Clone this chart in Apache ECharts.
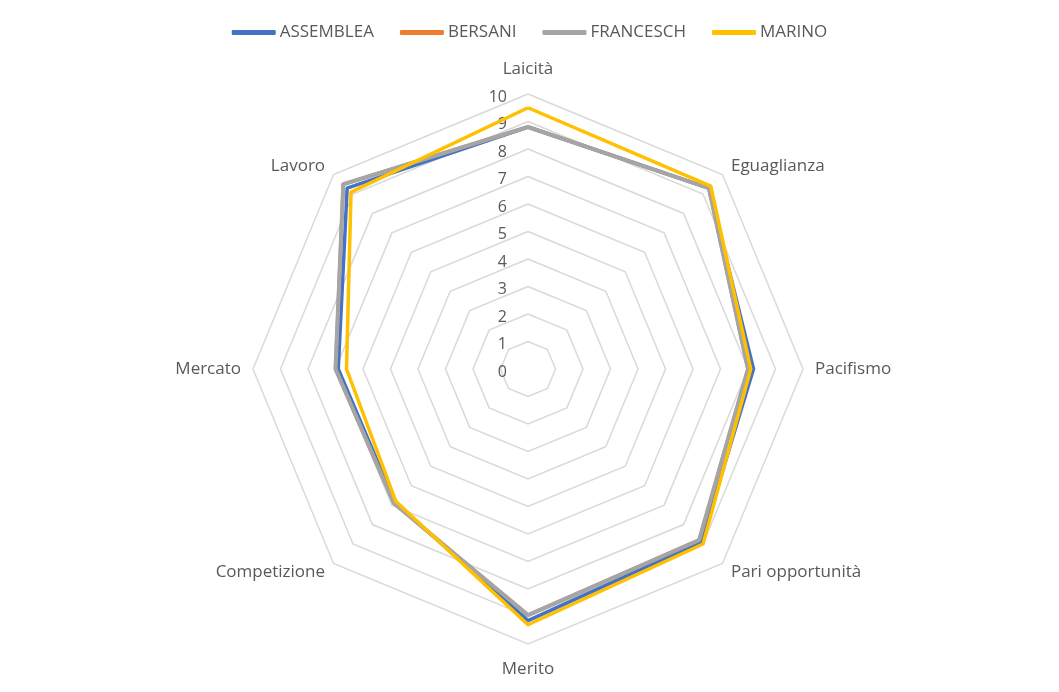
<!DOCTYPE html>
<html>
<head>
<meta charset="utf-8">
<script src="https://cdn.jsdelivr.net/npm/echarts@6/dist/echarts.min.js"></script>
<style>
html,body{margin:0;padding:0;background:#fff;}
#chart{width:1059px;height:692px;}
</style>
</head>
<body>
<div id="chart"></div>
<script>
// Categories in clockwise order starting from the top
const categories = ['Laicità', 'Eguaglianza', 'Pacifismo', 'Pari opportunità', 'Merito', 'Competizione', 'Mercato', 'Lavoro'];
const seriesNames = ['ASSEMBLEA', 'BERSANI', 'FRANCESCH', 'MARINO'];
const assemblea = [8.8, 9.3, 8.2, 8.9, 9.15, 6.85, 6.9, 9.3];
const bersani   = [8.8, 9.3, 8.0, 8.8, 8.95, 6.9, 7.0, 9.5];
const francesch = [8.8, 9.3, 8.0, 8.8, 8.95, 6.9, 7.0, 9.5];
const marino    = [9.5, 9.4, 8.1, 9.0, 9.3, 6.8, 6.6, 9.1];
const axisMin = 0, axisMax = 10, axisSplit = 10;
const colors = ['#4472C4', '#ED7D31', '#A5A5A5', '#FFC000'];

// ECharts radar runs counter-clockwise; reorder so visual order is clockwise
function ccw(arr) { return [arr[0]].concat(arr.slice(1).reverse()); }

const cats = ccw(categories);
const indicator = cats.map((c, i) => {
  const o = { name: c, min: axisMin, max: axisMax };
  if (i === 0) o.axisLabel = { show: true };
  return o;
});
const allValues = [assemblea, bersani, francesch, marino];

const chart = echarts.init(document.getElementById('chart'), null, { renderer: 'canvas' });
const font = 'Open Sans';
chart.setOption({
  backgroundColor: '#fff',
  animation: false,
  color: colors,
  legend: {
    top: 19,
    left: 'center',
    data: seriesNames,
    icon: 'roundRect',
    itemWidth: 44,
    itemHeight: 5,
    itemGap: 26,
    textStyle: { fontFamily: font, fontSize: 17, color: '#595959', padding: [0, 0, 0, -1] }
  },
  radar: {
    center: [528, 369],
    radius: 275,
    startAngle: 90,
    shape: 'polygon',
    splitNumber: axisSplit,
    indicator: indicator,
    axisName: { fontFamily: font, fontSize: 17, color: '#595959', lineHeight: 26 },
    nameGap: 12,
    axisLine: { show: false },
    axisTick: { show: false },
    splitArea: { show: false },
    splitLine: { lineStyle: { color: '#d9d9d9', width: 1.5 } },
    axisLabel: {
      show: false, fontFamily: font, fontSize: 16, color: '#595959', margin: 21,
      formatter: '{t|{value}}',
      rich: { t: { fontFamily: font, fontSize: 16, color: '#595959', padding: [6, 0, 0, 0] } }
    }
  },
  series: seriesNames.map((n, i) => ({
    name: n,
    type: 'radar',
    symbol: 'none',
    lineStyle: { width: i === 2 ? 4 : 3.5, color: colors[i] },
    itemStyle: { color: colors[i] },
    z: 2 + i,
    data: [{ name: n, value: ccw(allValues[i]) }]
  }))
});
</script>
</body>
</html>
